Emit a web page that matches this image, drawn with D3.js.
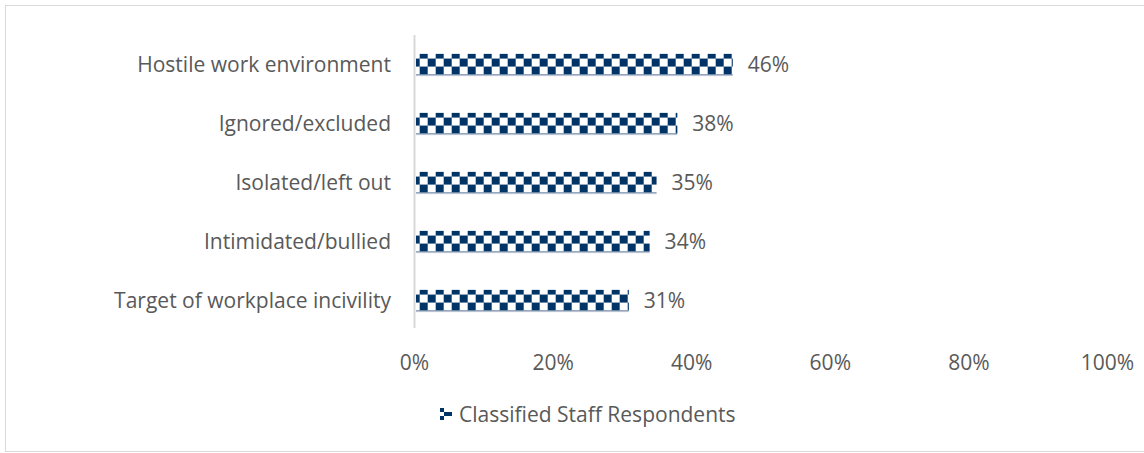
<!DOCTYPE html>
<html>
<head>
<meta charset="utf-8">
<script src="https://cdn.jsdelivr.net/npm/d3@7"></script>
<style>
  html, body { margin: 0; padding: 0; background: #fff; }
  svg { display: block; }
  text { font-family: "Open Sans", sans-serif; fill: #595959; }
</style>
</head>
<body>
<svg id="chart" width="1144" height="453"></svg>
<script>
// Share of classified staff reporting each experience
const categories = [
  "Hostile work environment",
  "Ignored/excluded",
  "Isolated/left out",
  "Intimidated/bullied",
  "Target of workplace incivility"
];
const values = [0.46, 0.38, 0.35, 0.34, 0.31];
const tickValues = [0, 0.2, 0.4, 0.6, 0.8, 1.0];
const seriesName = "Classified Staff Respondents";

const svg = d3.select("#chart");
const W = 1144, H = 453;
const navy = "#003366";

// Pick a font size so the longest category label spans ~277px
const probe = svg.append("text").attr("font-size", 20).text(categories[4]);
const fontSize = 20 * 277 / probe.node().getComputedTextLength();
probe.remove();

// Outer frame
svg.append("rect")
  .attr("x", 5.5).attr("y", 5.5)
  .attr("width", W).attr("height", H - 7)
  .attr("fill", "#fff").attr("stroke", "#d9d9d9").attr("stroke-width", 1);

// Checkerboard fill (8px squares), laid out relative to each bar's top edge
const defs = svg.append("defs");
const pat = defs.append("pattern")
  .attr("id", "checker")
  .attr("patternUnits", "userSpaceOnUse")
  .attr("width", 16).attr("height", 16)
  .attr("x", 5.7).attr("y", 4.7);
pat.append("rect").attr("width", 16).attr("height", 16).attr("fill", "#fff");
pat.append("rect").attr("x", 8).attr("y", 0).attr("width", 8).attr("height", 8).attr("fill", navy);
pat.append("rect").attr("x", 0).attr("y", 8).attr("width", 8).attr("height", 8).attr("fill", navy);

const x = d3.scaleLinear().domain([0, 1]).range([414, 1107]);
const y = d3.scaleBand().domain(categories).range([35, 330]).paddingInner(0.64).paddingOuter(0.32);

// Vertical category axis line
svg.append("line")
  .attr("x1", 414.5).attr("x2", 414.5)
  .attr("y1", 35).attr("y2", 328)
  .attr("stroke", "#d9d9d9").attr("stroke-width", 2);

// Bars
const bars = svg.append("g").selectAll("g")
  .data(categories)
  .join("g")
  .attr("transform", d => `translate(${x(0)},${y(d)})`);

bars.append("rect")
  .attr("x", 2)
  .attr("y", 0)
  .attr("width", (d, i) => x(values[i]) - x(0) - 2)
  .attr("height", y.bandwidth())
  .attr("fill", "url(#checker)");

bars.append("line")
  .attr("x1", 2)
  .attr("x2", (d, i) => x(values[i]) - x(0))
  .attr("y1", y.bandwidth() + 0.5)
  .attr("y2", y.bandwidth() + 0.5)
  .attr("stroke", "#b4bccb").attr("stroke-width", 1);

// Category labels
svg.append("g").selectAll("text")
  .data(categories)
  .join("text")
  .attr("x", 391)
  .attr("y", d => y(d) + y.bandwidth() / 2)
  .attr("dy", "0.36em")
  .attr("text-anchor", "end")
  .attr("font-size", fontSize)
  .text(d => d);

// Value labels
svg.append("g").selectAll("text")
  .data(categories)
  .join("text")
  .attr("x", (d, i) => x(values[i]) + 15)
  .attr("y", d => y(d) + y.bandwidth() / 2)
  .attr("dy", "0.36em")
  .attr("font-size", fontSize)
  .text((d, i) => Math.round(values[i] * 100) + "%");

// Value axis
const xAxis = d3.axisBottom(x).tickValues(tickValues).tickSize(0).tickFormat(d3.format(".0%"));
const gx = svg.append("g").attr("transform", "translate(0,352)").call(xAxis);
gx.select(".domain").remove();
gx.selectAll("text")
  .attr("font-size", fontSize)
  .attr("font-family", "'Open Sans', sans-serif")
  .attr("fill", "#595959");

// Legend
const lg = svg.append("g").attr("transform", "translate(440,408)");
lg.append("rect").attr("x", 0).attr("y", 0).attr("width", 4).attr("height", 4).attr("fill", navy);
lg.append("rect").attr("x", 4).attr("y", 4).attr("width", 8).attr("height", 4).attr("fill", navy);
lg.append("rect").attr("x", 0).attr("y", 8).attr("width", 4).attr("height", 4).attr("fill", navy);
lg.append("text").attr("x", 19).attr("y", 6).attr("dy", "0.36em").attr("font-size", fontSize).text(seriesName);
</script>
</body>
</html>
